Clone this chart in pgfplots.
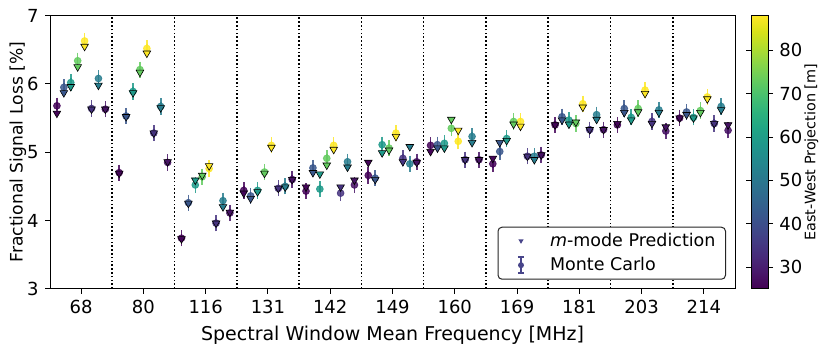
\documentclass[border=0pt]{standalone}
\usepackage{pgfplots}
\pgfplotsset{compat=1.18}
\usepackage{pgfplotstable}
\usepackage{fontspec}
\setmainfont{DejaVu Sans}

% viridis colours of the eight baselines (EW projection 26 ... 88 m)
\definecolor{c0}{HTML}{450559}
\definecolor{c1}{HTML}{3A578C}
\definecolor{c2}{HTML}{1F9A8A}
\definecolor{c3}{HTML}{63CB5F}
\definecolor{c4}{HTML}{FDE725}
\definecolor{c5}{HTML}{46337F}
\definecolor{c6}{HTML}{287D8E}
\definecolor{c7}{HTML}{471365}
\definecolor{legc}{HTML}{48458A}

% g = spectral window index, mcK = Monte Carlo, mmK = m-mode prediction
\pgfplotstableread{
g  mc0  mm0  mc1  mm1  mc2  mm2  mc3  mm3  mc4  mm4  mc5  mm5  mc6  mm6  mc7  mm7
0  5.68 5.57 5.95 5.87 6.02 5.96 6.34 6.25 6.63 6.55 5.64 5.63 6.08 5.98 5.63 5.63
1  4.70 4.69 5.53 5.52 5.89 5.87 6.21 6.17 6.52 6.45 5.28 5.28 5.67 5.65 4.85 4.86
2  3.74 3.73 4.26 4.25 4.52 4.59 4.64 4.66 4.76 4.80 3.96 3.96 4.29 4.20 4.11 4.12
3  4.44 4.40 4.36 4.32 4.44 4.42 4.71 4.69 5.10 5.07 4.47 4.47 4.50 4.49 4.60 4.60
4  4.43 4.49 4.77 4.70 4.46 4.68 4.91 4.81 5.10 5.04 4.40 4.49 4.86 4.78 4.52 4.59
5  4.66 4.85 4.62 4.60 5.11 4.99 5.06 5.03 5.28 5.23 4.91 4.86 4.83 5.08 4.86 4.85
6  5.10 5.01 5.11 5.06 5.13 5.06 5.35 5.48 5.16 5.32 4.89 4.89 5.23 5.14 4.89 4.89
7  4.83 4.91 5.01 5.14 5.20 5.17 5.45 5.41 5.45 5.38 4.94 4.94 4.94 4.89 4.96 4.96
8  5.40 5.40 5.52 5.47 5.47 5.41 5.42 5.44 5.71 5.66 5.33 5.33 5.55 5.48 5.33 5.33
9  5.40 5.42 5.64 5.58 5.51 5.47 5.64 5.59 5.91 5.86 5.45 5.42 5.62 5.58 5.31 5.37
10 5.50 5.50 5.59 5.55 5.51 5.50 5.61 5.58 5.81 5.78 5.42 5.42 5.67 5.62 5.32 5.40
}\lossdata

\begin{document}
\fontsize{9}{11}\selectfont
\begin{tikzpicture}
\path[use as bounding box] (0,0) rectangle (415.5pt,172.5pt);
\begin{axis}[
  at={(25pt,28.15pt)}, anchor=south west,
  scale only axis, width=342.5pt, height=136.5pt,
  xmin=-0.5, xmax=10.5, ymin=3, ymax=7,
  xtick={0,...,10},
  xticklabels={68,80,116,131,142,149,160,169,181,203,214},
  ytick={3,4,5,6,7},
  minor xtick={0.5,1.5,...,9.5},
  xminorgrids,
  minor grid style={black, line width=0.8pt, dash pattern=on 0.8pt off 1.1pt},
  minor tick length=0pt,
  tick align=outside, major tick length=2.5pt,
  xtick pos=left, ytick pos=left,
  tick style={black, line width=0.5pt},
  axis line style={line width=0.5pt},
  /pgf/number format/assume math mode=true,
  ticklabel style={font=\fontsize{9}{11}\selectfont},
  xlabel style={font=\fontsize{9.5}{11}\selectfont},
  ylabel style={font=\fontsize{8.6}{10}\selectfont,
    at={(axis description cs:-0.047,0.5)}, anchor=center},
  xlabel={Spectral Window Mean Frequency [MHz]},
  ylabel={Fractional Signal Loss [\%]},
  colormap/viridis,
  point meta min=25, point meta max=88,
  colorbar,
  colorbar style={
    at={(parent axis.north east)}, anchor=north west, xshift=-0.5pt,
    width=8.5pt,
    ytick={30,40,...,80},
    yticklabel pos=right,
    ylabel={East-West Projection [m]},
    every axis y label/.style={at={(axis description cs:3.55,0.5)},
      anchor=center, rotate=90, font=\fontsize{7.2}{9}\selectfont},
    tick align=outside, major tick length=2.5pt,
    tick style={black, line width=0.5pt},
    axis line style={line width=0.5pt},
    /pgf/number format/assume math mode=true,
    ticklabel style={font=\fontsize{9}{11}\selectfont},
  },
  legend style={at={(rel axis cs:1,0)}, anchor=south east,
    xshift=-4.5pt, yshift=4.5pt, draw=black!85, rounded corners=2pt,
    line width=0.5pt, font=\fontsize{8.75}{10}\selectfont,
    inner xsep=3pt, inner ysep=1pt, row sep=0pt},
  legend cell align=left,
]
\addlegendimage{legend image code/.code={
  \path[draw=none, fill=none] (0pt,-3pt) rectangle (21pt,3pt);
  \fill[legc, draw=none, rounded corners=0pt] (8.5pt,-1.3pt) -- (7.2pt,0.9pt) -- (9.8pt,0.9pt) -- cycle;}}
\addlegendentry{\textit{m}-mode Prediction}
\addlegendimage{legend image code/.code={
  \path[draw=none, fill=none] (0pt,-3pt) rectangle (21pt,3pt);
  \draw[legc, line width=0.8pt, rounded corners=0pt] (8.5pt,-4pt) -- (8.5pt,4pt);
  \draw[legc, line width=0.8pt, rounded corners=0pt] (6.9pt,-4pt) -- (10.1pt,-4pt);
  \draw[legc, line width=0.8pt, rounded corners=0pt] (6.9pt,4pt) -- (10.1pt,4pt);
  \fill[legc, draw=none] (8.5pt,0pt) circle (1.5pt);}}
\addlegendentry{Monte Carlo}

\pgfplotsinvokeforeach{0,...,7}{
  \addplot[forget plot, only marks, mark=*, mark size=1.7pt, color=c#1, opacity=0.85,
    error bars/.cd, y dir=both, y fixed=0.06,
    error bar style={c#1, line width=0.8pt},
    error mark options={c#1, line width=0.8pt, mark size=2pt}]
    table[x expr=\thisrow{g}-0.5+(#1+1)/9, y=mc#1] {\lossdata};
}
\pgfplotsinvokeforeach{0,...,7}{
  \addplot[forget plot, only marks, mark=triangle*, mark size=2.2pt,
    mark options={rotate=180, fill=c#1, draw=black, line width=0.3pt}]
    table[x expr=\thisrow{g}-0.5+(#1+1)/9, y=mm#1] {\lossdata};
}
\end{axis}
\end{tikzpicture}
\end{document}
